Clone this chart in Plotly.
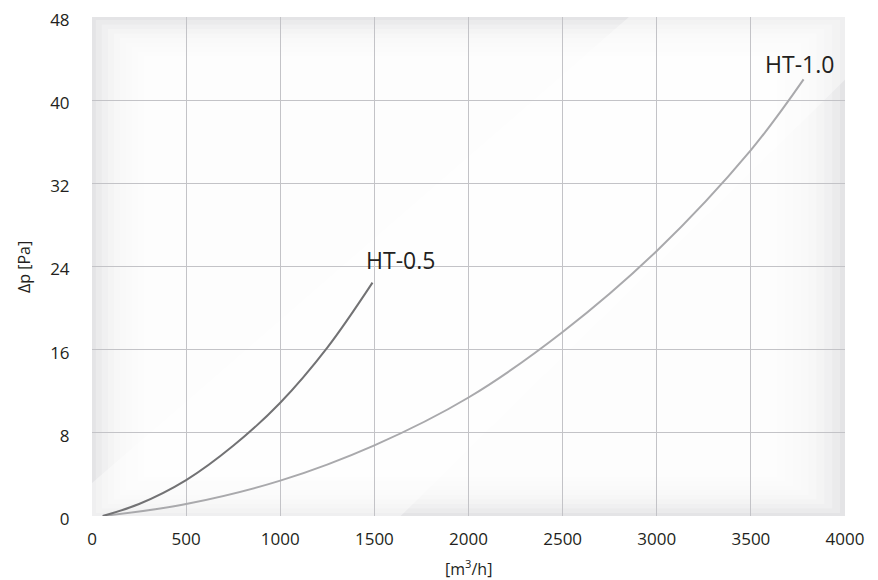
import plotly.graph_objects as go

# Data
ht05_flow = [57, 250, 500, 750, 1000, 1250, 1490]
ht05_dp = [0.0, 1.15, 3.45, 6.75, 10.9, 16.2, 22.45]

ht10_flow = [57, 500, 1000, 1500, 2000, 2500, 3000, 3500, 3780]
ht10_dp = [0.0, 1.15, 3.4, 6.8, 11.4, 17.7, 25.5, 35.2, 42.0]

x_ticks = [0, 500, 1000, 1500, 2000, 2500, 3000, 3500, 4000]
y_ticks = [0, 8, 16, 24, 32, 40, 48]

labels = ["HT-0.5", "HT-1.0"]
label_x = [1641, 3756]
label_y = [24.6, 43.5]

FONT = "Open Sans"

fig = go.Figure()
fig.add_trace(go.Scatter(x=ht10_flow, y=ht10_dp, mode="lines",
                         line=dict(color="#a9a9ac", width=2, shape="spline", smoothing=1.0),
                         showlegend=False, hoverinfo="skip"))
fig.add_trace(go.Scatter(x=ht05_flow, y=ht05_dp, mode="lines",
                         line=dict(color="#727274", width=2, shape="spline", smoothing=1.0),
                         showlegend=False, hoverinfo="skip"))

annotations = []
for t, x, y in zip(labels, label_x, label_y):
    annotations.append(dict(x=x, y=y, xref="x", yref="y", text=t, showarrow=False,
                            font=dict(family=FONT, size=23, color="#231f20")))
annotations.append(dict(x=0.5, y=-0.104, xref="paper", yref="paper", text="[m<sup>3</sup>/h]",
                        showarrow=False, xanchor="center", yanchor="middle",
                        font=dict(family=FONT, size=16, color="#231f20")))
annotations.append(dict(x=-0.091, y=0.5, xref="paper", yref="paper", text="Δp [Pa]",
                        showarrow=False, textangle=-90, xanchor="center", yanchor="middle",
                        font=dict(family=FONT, size=16, color="#231f20")))

# decorative background: vignette built from stacked translucent rectangles
shapes = []
steps = 12
for i in range(steps):
    ix = 0.005 + i * 0.008
    iy = 0.006 + i * 0.009
    shapes.append(dict(type="rect", xref="x domain", yref="y domain",
                       x0=ix, x1=1 - ix * 1.3, y0=iy, y1=1 - iy,
                       fillcolor="white", opacity=0.26, line=dict(width=0), layer="below"))
# diagonal light band
shapes.append(dict(type="path", xref="x domain", yref="y domain",
                   path="M 0 0.066 L 0 0 L 0.41 0 L 1 0.874 L 1 1 L 0.713 1 Z",
                   fillcolor="white", opacity=0.4, line=dict(width=0), layer="below"))

# the page body adds an 8px offset, so margins are reduced by it
fig.update_layout(
    width=878, height=580,
    margin=dict(l=84, r=41, t=9, b=72, autoexpand=False),
    paper_bgcolor="white",
    plot_bgcolor="#e4e4e6",
    font=dict(family=FONT, color="#231f20"),
    annotations=annotations,
    shapes=shapes,
)
fig.update_xaxes(range=[0, 4000], tickvals=x_ticks, ticktext=[str(v) for v in x_ticks],
                 showgrid=True, gridcolor="#c3c3c7", gridwidth=1, zeroline=False, showline=False,
                 ticks="outside", ticklen=8, tickcolor="rgba(0,0,0,0)", automargin=False,
                 ticklabeloverflow="allow",
                 tickfont=dict(family=FONT, size=17, color="#231f20"), fixedrange=True)
fig.update_yaxes(range=[0, 48], tickvals=y_ticks, ticktext=[str(v) for v in y_ticks],
                 showgrid=True, gridcolor="#c3c3c7", gridwidth=1, zeroline=False, showline=False,
                 ticks="outside", ticklen=18, tickcolor="rgba(0,0,0,0)", automargin=False,
                 ticklabeloverflow="allow", ticklabelshift=3,
                 tickfont=dict(family=FONT, size=17, color="#231f20"), fixedrange=True)

fig.write_html("out.html")
